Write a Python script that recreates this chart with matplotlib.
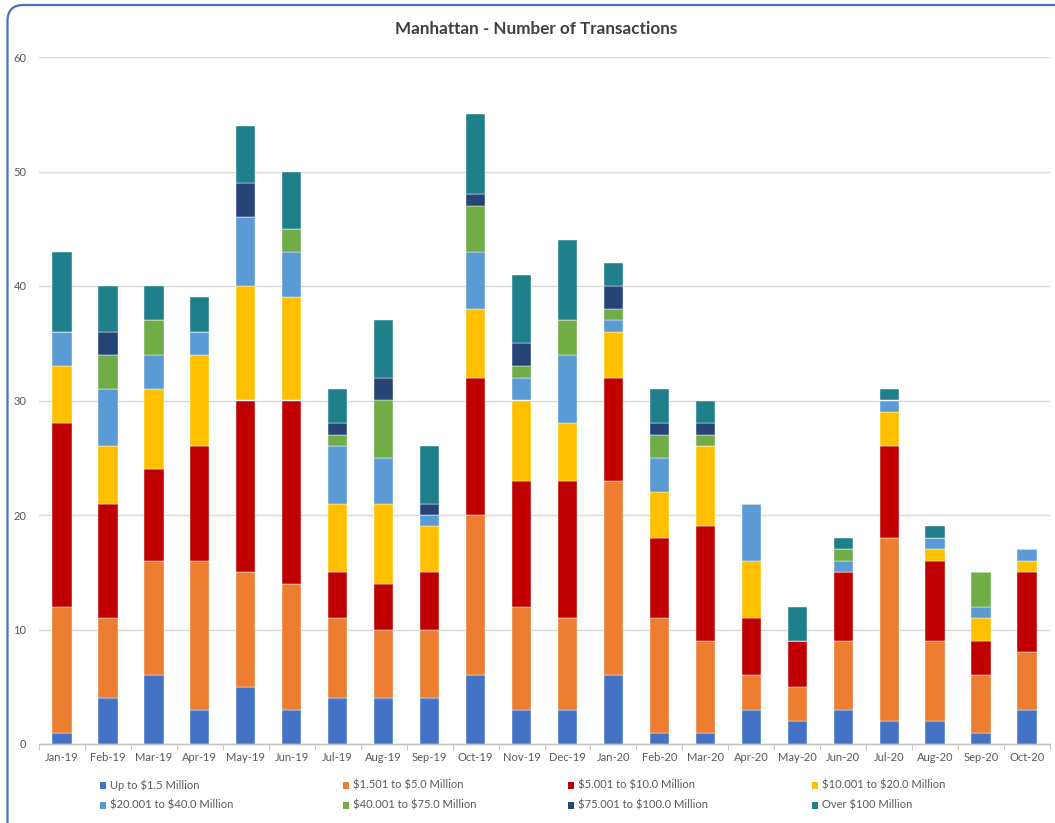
import matplotlib
matplotlib.use("Agg")
import matplotlib.pyplot as plt
import numpy as np
from matplotlib.patches import FancyBboxPatch, Rectangle

plt.rcParams["text.parse_math"] = False

months = ["Jan-19", "Feb-19", "Mar-19", "Apr-19", "May-19", "Jun-19", "Jul-19",
          "Aug-19", "Sep-19", "Oct-19", "Nov-19", "Dec-19", "Jan-20", "Feb-20",
          "Mar-20", "Apr-20", "May-20", "Jun-20", "Jul-20", "Aug-20", "Sep-20",
          "Oct-20"]

series_names = ["Up to $1.5 Million", "$1.501 to $5.0 Million",
                "$5.001 to $10.0 Million", "$10.001 to $20.0 Million",
                "$20.001 to $40.0 Million", "$40.001 to $75.0 Million",
                "$75.001 to $100.0 Million", "Over $100 Million"]

up_to_1_5 =    [1, 4, 6, 3, 5, 3, 4, 4, 4, 6, 3, 3, 6, 1, 1, 3, 2, 3, 2, 2, 1, 3]
m1_5_to_5 =    [11, 7, 10, 13, 10, 11, 7, 6, 6, 14, 9, 8, 17, 10, 8, 3, 3, 6, 16, 7, 5, 5]
m5_to_10 =     [16, 10, 8, 10, 15, 16, 4, 4, 5, 12, 11, 12, 9, 7, 10, 5, 4, 6, 8, 7, 3, 7]
m10_to_20 =    [5, 5, 7, 8, 10, 9, 6, 7, 4, 6, 7, 5, 4, 4, 7, 5, 0, 0, 3, 1, 2, 1]
m20_to_40 =    [3, 5, 3, 2, 6, 4, 5, 4, 1, 5, 2, 6, 1, 3, 0, 5, 0, 1, 1, 1, 1, 1]
m40_to_75 =    [0, 3, 3, 0, 0, 2, 1, 5, 0, 4, 1, 3, 1, 2, 1, 0, 0, 1, 0, 0, 3, 0]
m75_to_100 =   [0, 2, 0, 0, 3, 0, 1, 2, 1, 1, 2, 0, 2, 1, 1, 0, 0, 0, 0, 0, 0, 0]
over_100 =     [7, 4, 3, 3, 5, 5, 3, 5, 5, 7, 6, 7, 2, 3, 2, 0, 3, 1, 1, 1, 0, 0]

series_values = [up_to_1_5, m1_5_to_5, m5_to_10, m10_to_20, m20_to_40,
                 m40_to_75, m75_to_100, over_100]
colors = ["#4472C4", "#ED7D31", "#C00000", "#FFC000", "#5B9BD5", "#70AD47",
          "#264478", "#1F7F8A"]

W, H = 1055, 823
fig = plt.figure(figsize=(W / 100, H / 100), dpi=100)
fig.patch.set_facecolor("white")

font_main = ["Lato", "DejaVu Sans"]

# Rounded blue frame around the chart
frame = FancyBboxPatch((0.075, -0.6), 11.5, 8.78,
                       boxstyle="round,pad=0,rounding_size=0.16",
                       transform=fig.dpi_scale_trans, facecolor="none",
                       edgecolor="#4472C4", linewidth=1.6, zorder=0)
fig.patches.append(frame)

ax = fig.add_axes([39 / W, 1 - 744 / H, (1050 - 39) / W, (744 - 57) / H])
x = np.arange(len(months))
bottom = np.zeros(len(months))
for vals, col, name in zip(series_values, colors, series_names):
    v = np.array(vals, dtype=float)
    ax.bar(x, v, width=0.42, bottom=bottom, color=col, label=name,
           edgecolor="white", linewidth=0.3, zorder=3)
    bottom += v

ax.set_xlim(-0.5, len(months) - 0.5)
ax.set_ylim(0, 60)
ax.set_yticks(np.arange(0, 61, 10))
ax.yaxis.grid(True, color="#d9d9d9", linewidth=1.0, zorder=0)
ax.set_axisbelow(True)
for s in ["top", "right", "left"]:
    ax.spines[s].set_visible(False)
ax.spines["bottom"].set_color("#bfbfbf")
ax.spines["bottom"].set_linewidth(1.0)
ax.tick_params(axis="y", length=0, labelsize=8, labelcolor="#595959", pad=9)
ax.set_xticks(x)
ax.set_xticklabels(months, fontsize=8, color="#595959", family=font_main)
ax.tick_params(axis="x", length=0, pad=6)
ax.set_xticks(np.arange(-0.5, len(months), 1), minor=True)
ax.tick_params(axis="x", which="minor", length=4, color="#bfbfbf")
for lbl in ax.get_yticklabels():
    lbl.set_family(font_main)

fig.text(536 / W, 1 - 29 / H, "Manhattan - Number of Transactions",
         ha="center", va="center", fontsize=12.3, fontweight="bold",
         color="#404040", family=font_main)

# Legend entries laid out in two rows of four
col_x = [100, 343, 568, 812]
row_y = [785, 805]
for i, (name, col) in enumerate(zip(series_names, colors)):
    px = col_x[i % 4]
    py = row_y[i // 4]
    fig.patches.append(Rectangle((px / W, 1 - (py + 3.5) / H), 6 / W, 7 / H,
                                 transform=fig.transFigure, facecolor=col,
                                 edgecolor="none"))
    fig.text((px + 10) / W, 1 - py / H, name, ha="left", va="center",
             fontsize=8, color="#595959", family=font_main)

fig.savefig("out.png", dpi=100)
